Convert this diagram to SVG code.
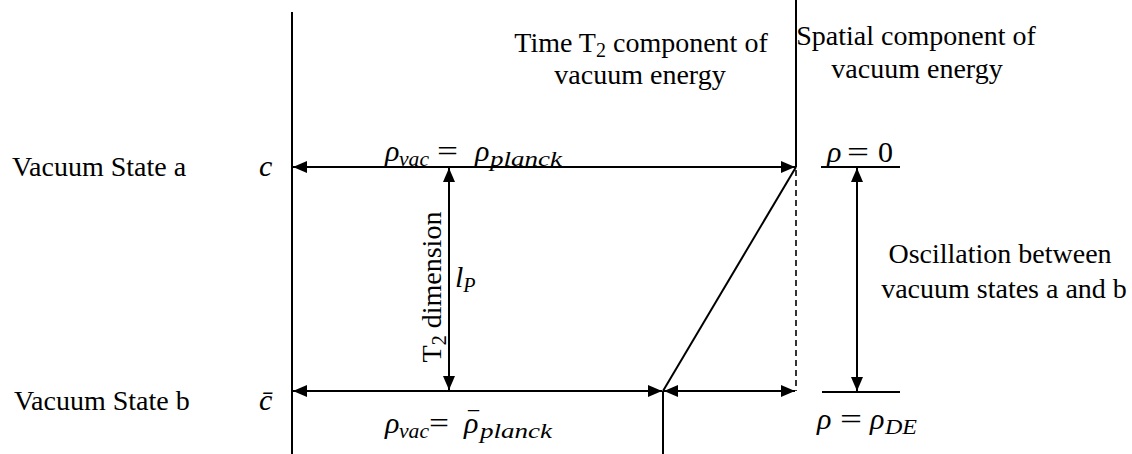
<svg xmlns="http://www.w3.org/2000/svg" width="1132" height="454" viewBox="0 0 1132 454">
<style>
.t{font-family:"Liberation Serif","Times New Roman",serif;font-size:28px;fill:#000}
.m{font-family:"Liberation Serif","Times New Roman",serif;font-size:30px;font-style:italic;fill:#000}
.s{font-size:20px}
.u{font-style:normal}
.ln{stroke:#000;stroke-width:2;fill:none}
.ar{stroke:#000;stroke-width:2;fill:none;marker-start:url(#ah);marker-end:url(#ah)}
.dash{stroke:#000;stroke-width:1.6;stroke-dasharray:6 4;fill:none}
</style>
<defs>
<marker id="ah" markerUnits="userSpaceOnUse" markerWidth="14" markerHeight="12" refX="14" refY="6" orient="auto-start-reverse" viewBox="0 0 14 12">
<path d="M0,0 L14,6 L0,12 Z" fill="#000"/>
</marker>
</defs>
<g id="connectors">
<line class="ln" x1="292" y1="12" x2="292" y2="454"/>
<line class="ln" x1="796" y1="0" x2="796" y2="167"/>
<line class="dash" x1="796" y1="170" x2="796" y2="391"/>
<line class="ln" x1="663" y1="391" x2="663" y2="454"/>
<line class="ar" x1="293" y1="167" x2="795" y2="167"/>
<line class="ar" x1="293" y1="391" x2="662" y2="391"/>
<line class="ar" x1="664" y1="391" x2="795" y2="391"/>
<line class="ar" x1="449" y1="168" x2="449" y2="390"/>
<line class="ln" x1="663" y1="391" x2="796" y2="167"/>
<line class="ln" x1="821" y1="167" x2="900" y2="167"/>
<line class="ln" x1="822" y1="392" x2="900" y2="392"/>
<line class="ar" x1="857" y1="168" x2="857" y2="391"/>
</g>
<g id="label-time">
<text class="t" x="641" y="52" text-anchor="middle">Time T<tspan class="s" dy="5">2</tspan><tspan dy="-5"> component of</tspan></text>
<text class="t" x="640" y="84" text-anchor="middle">vacuum energy</text>
</g>
<g id="label-spatial">
<text class="t" x="916" y="45" text-anchor="middle">Spatial component of</text>
<text class="t" x="917" y="78" text-anchor="middle">vacuum energy</text>
</g>
<g id="state-a">
<text class="t" x="12" y="176">Vacuum State a</text>
<text class="m" x="259" y="176">c</text>
</g>
<g id="state-b">
<text class="t" x="14" y="410">Vacuum State b</text>
<text class="m" x="259" y="410">c̄</text>
</g>
<g id="rho-top">
<text class="m" x="385" y="161">ρ<tspan class="s" dy="5" x="399" textLength="30" lengthAdjust="spacingAndGlyphs">vac</tspan><tspan class="u" x="437" dy="-5" textLength="21" lengthAdjust="spacingAndGlyphs">=</tspan><tspan x="475">ρ</tspan><tspan class="s" dy="5" x="490" textLength="72" lengthAdjust="spacingAndGlyphs">planck</tspan></text>
</g>
<g id="rho-bottom">
<text class="m" x="385" y="433">ρ<tspan class="s" dy="5" x="399" textLength="30" lengthAdjust="spacingAndGlyphs">vac</tspan><tspan class="u" x="429" dy="-5" textLength="20" lengthAdjust="spacingAndGlyphs">=</tspan><tspan x="464">ρ</tspan><tspan class="s" dy="5" x="480" textLength="72" lengthAdjust="spacingAndGlyphs">planck</tspan></text>
<text class="m u" x="468" y="432" textLength="11" lengthAdjust="spacingAndGlyphs">¯</text>
</g>
<g id="t2-dimension">
<text class="t" transform="translate(441,287) rotate(-90)" text-anchor="middle">T<tspan class="s" dy="5">2</tspan><tspan dy="-5"> dimension</tspan></text>
</g>
<g id="lp">
<text class="m" x="455" y="287">l<tspan class="s" dy="5">P</tspan></text>
</g>
<g id="rho-zero">
<text class="m" x="827" y="162">ρ<tspan class="u" x="847" textLength="22" lengthAdjust="spacingAndGlyphs">=</tspan><tspan class="u" x="878">0</tspan></text>
</g>
<g id="rho-de">
<text class="m" x="817" y="429">ρ<tspan class="u" x="840" textLength="22" lengthAdjust="spacingAndGlyphs">=</tspan><tspan x="870">ρ</tspan><tspan class="s" dy="5" x="885" textLength="32" lengthAdjust="spacingAndGlyphs">DE</tspan></text>
</g>
<g id="oscillation">
<text class="t" x="1000" y="263" text-anchor="middle">Oscillation between</text>
<text class="t" x="1004" y="298" text-anchor="middle">vacuum states a and b</text>
</g>
</svg>
